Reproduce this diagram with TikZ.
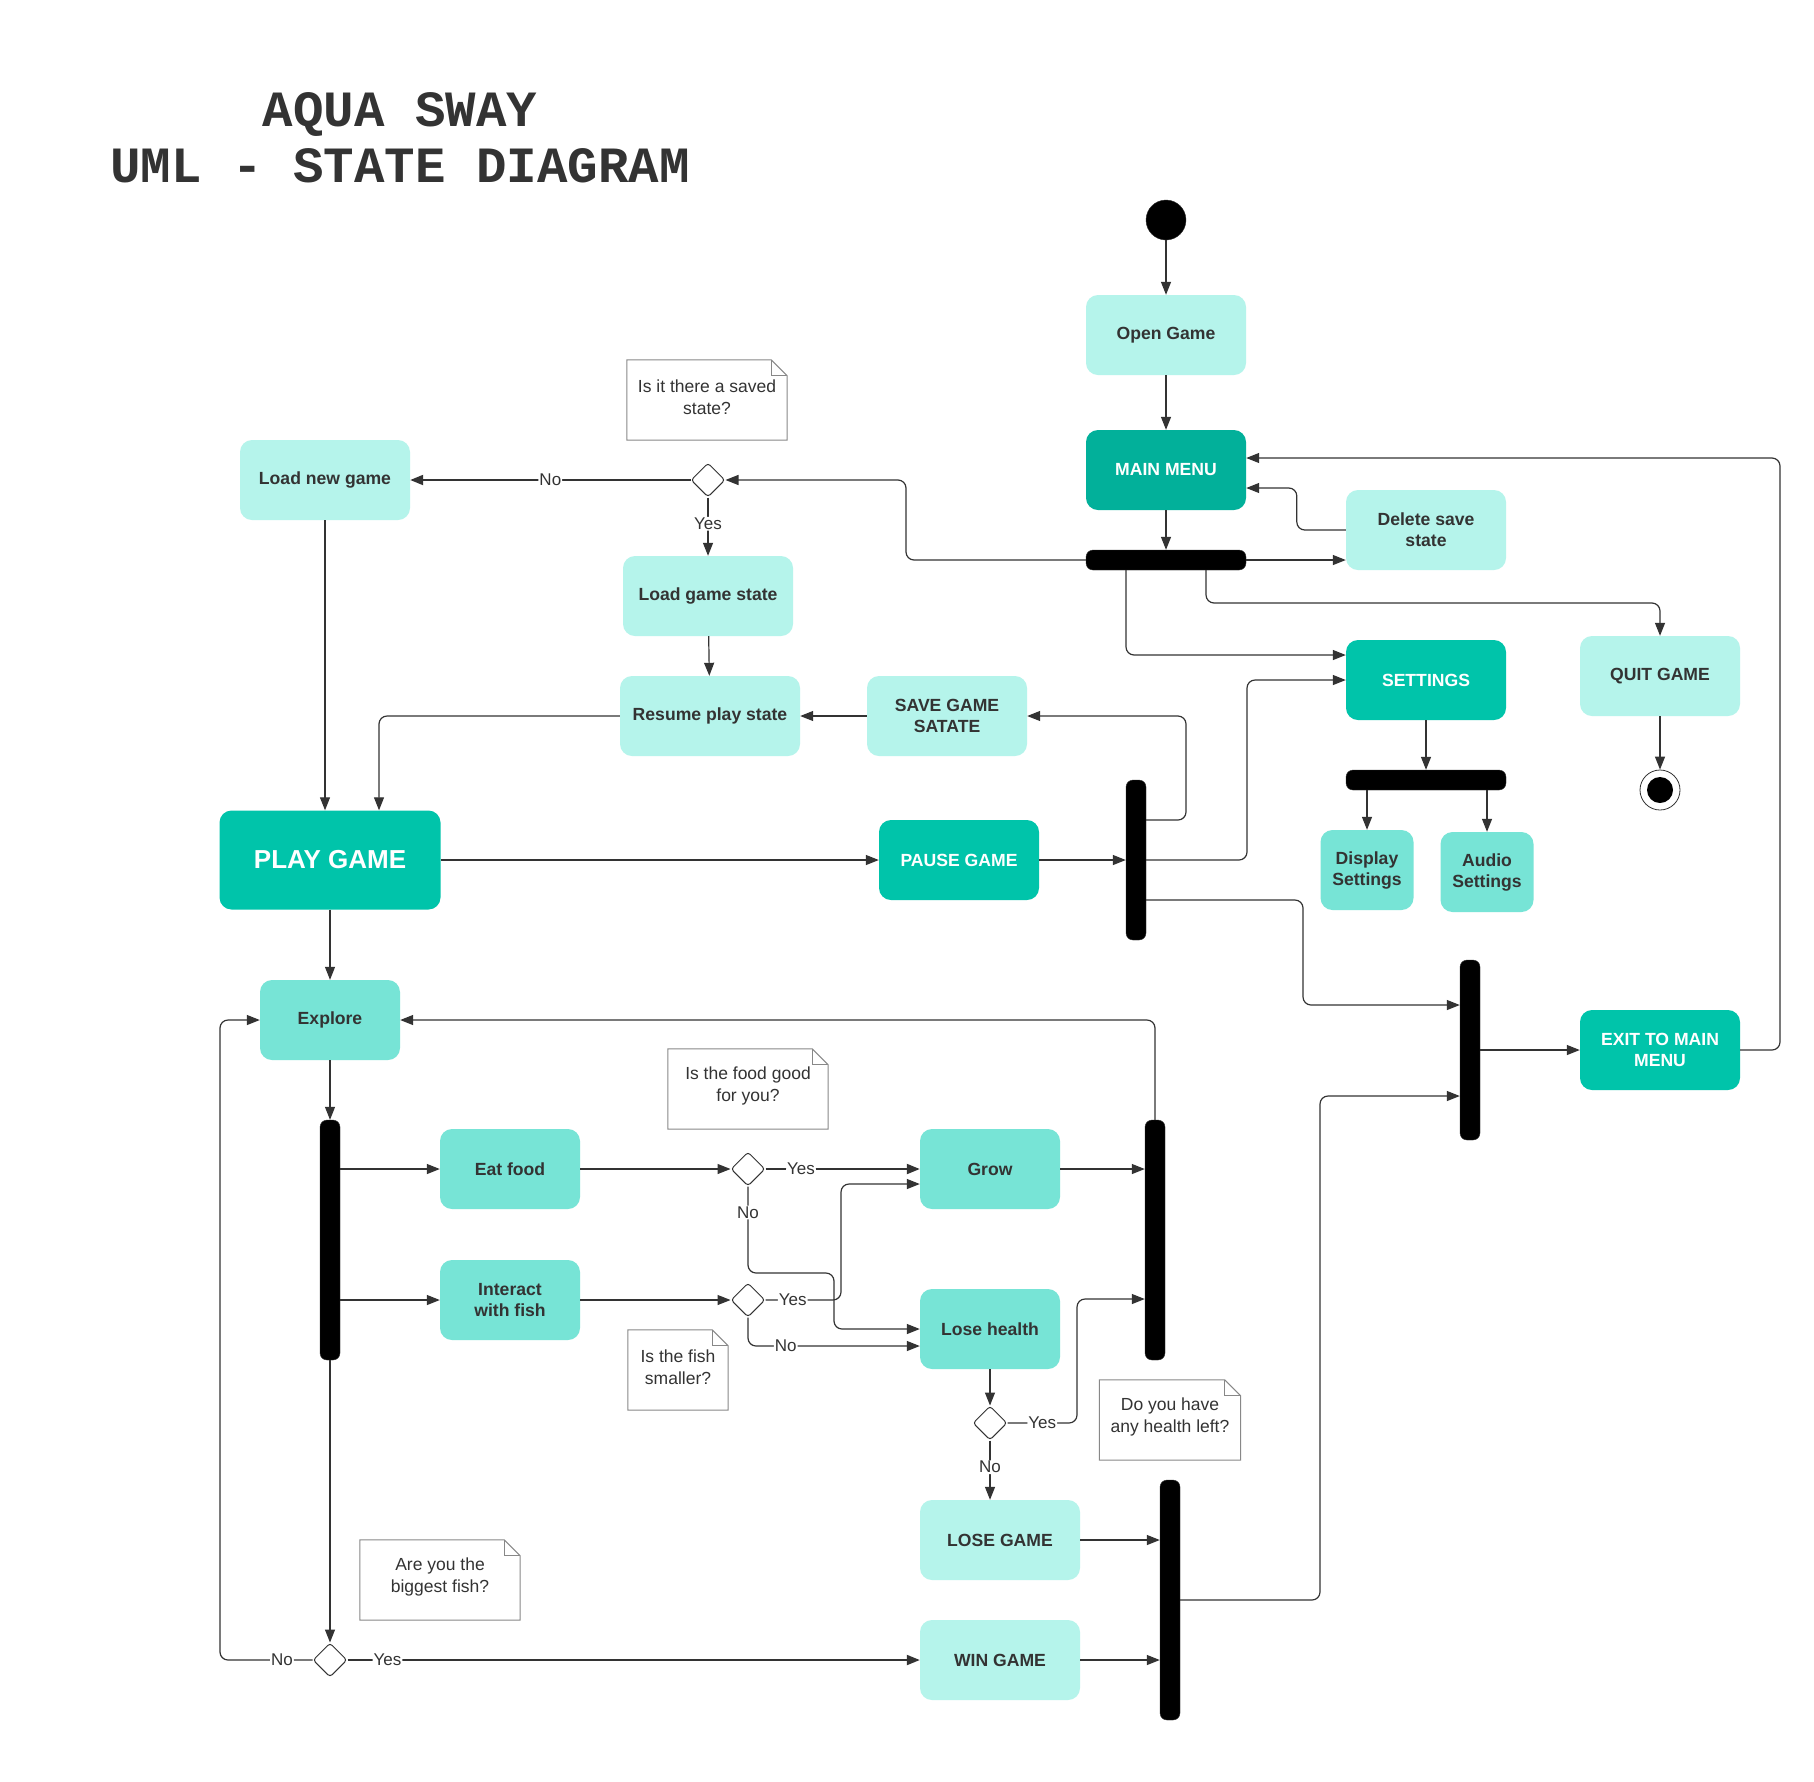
\documentclass[tikz,border=0pt]{standalone}
\usepackage{fontspec}
\setmainfont{Liberation Sans}
\newfontfamily\titlefont{Liberation Mono}
\usetikzlibrary{shapes.geometric,arrows.meta}
\definecolor{lightc}{HTML}{B5F4EB}
\definecolor{midc}{HTML}{77E4D6}
\definecolor{darkc}{HTML}{00C4AA}
\definecolor{darkerc}{HTML}{02B09A}
\definecolor{txt}{HTML}{333333}
\definecolor{linec}{HTML}{333333}
\definecolor{notec}{HTML}{888888}
\begin{document}
\begin{tikzpicture}[x=1pt,y=-1pt,
  box/.style={rectangle, rounded corners=12pt, minimum width=160pt, minimum height=80pt, inner sep=2pt, align=center, text=txt, font=\fontsize{17.6}{21}\selectfont\bfseries},
  light/.style={box, fill=lightc},
  mid/.style={box, fill=midc},
  dark/.style={box, fill=darkc, text=white},
  hbar/.style={rectangle, fill=black, draw=linec, rounded corners=7pt, inner sep=0pt, minimum width=160pt, minimum height=20pt},
  vbar/.style={rectangle, fill=black, draw=linec, rounded corners=7pt, inner sep=0pt, minimum width=20pt},
  dec/.style={diamond, draw=linec, fill=white, line width=1pt, minimum width=34pt, minimum height=34pt, inner sep=0pt, aspect=1, rounded corners=3pt},
  note/.style={rectangle, fill=white, minimum width=160pt, minimum height=80pt, inner sep=0pt},
  notetext/.style={align=center, text=txt, inner sep=0pt, yshift=3pt, font=\fontsize{17.5}{21.5}\selectfont},
  conn/.style={draw=linec, line width=1.2pt, -{Triangle[length=13pt,width=10pt]}, rounded corners=8pt},
  strong/.style={conn, line width=2pt},
  lbl/.style={fill=white, inner sep=1pt, text=txt, font=\fontsize{17}{20}\selectfont}
]
\fill[white] (0,0) rectangle (1814,1781);
\useasboundingbox (0,0) rectangle (1814,1781);

% title
\node[font=\titlefont\fontsize{50.8}{56}\selectfont\bfseries, text=txt, align=center] (title) at (400,137.5) {AQUA SWAY\\UML - STATE DIAGRAM};

% top area
\node[circle, fill=black, draw=linec, minimum size=40pt, inner sep=0pt] (init) at (1166,220) {};
\node[light] (open) at (1166,335) {Open Game};
\node[box, fill=darkerc, text=white] (menu) at (1166,470) {MAIN MENU};
\node[hbar] (bar1) at (1166,560) {};
\node[light] (del) at (1426,530) {Delete save\\state};
\node[dark] (settings) at (1426,680) {SETTINGS};
\node[light] (quit) at (1660,676) {QUIT GAME};
\node[hbar] (bar2) at (1426,780) {};
\node[mid, minimum width=93pt] (disp) at (1367,870) {Display\\Settings};
\node[mid, minimum width=93pt] (audio) at (1487,872) {Audio\\Settings};
\node[circle, draw=linec, fill=white, line width=0.8pt, minimum size=40pt, inner sep=0pt] (final) at (1660,790) {};
\node[circle, fill=black, minimum size=26pt, inner sep=0pt] (finalin) at (final) {};

% load branch
\node[note, label={[notetext]center:{Is it there a saved\\state?}}] (n1) at (707,400) {};
\node[dec] (d0) at (708,480) {};
\node[light, minimum width=170pt] (loadnew) at (325,480) {Load new game};
\node[light, minimum width=170pt] (loadst) at (708,596) {Load game state};
\node[light, minimum width=180pt] (resume) at (710,716) {Resume play state};
\node[light] (save) at (947,716) {SAVE GAME\\SATATE};

% play
\node[dark, minimum width=221pt, minimum height=99pt, font=\fontsize{26}{30}\selectfont\bfseries] (play) at (330,860) {PLAY GAME};
\node[dark] (pause) at (959,860) {PAUSE GAME};
\node[vbar, minimum height=160pt] (pbar) at (1136,860) {};
\node[vbar, minimum height=180pt] (xbar) at (1470,1050) {};
\node[dark] (exit) at (1660,1050) {EXIT TO MAIN\\MENU};

% explore
\node[mid, minimum width=140pt] (explore) at (330,1020) {Explore};
\node[vbar, minimum height=240pt] (lbar) at (330,1240) {};
\node[mid, minimum width=140pt] (eat) at (510,1169) {Eat food};
\node[mid, minimum width=140pt] (inter) at (510,1300) {Interact\\with fish};
\node[dec] (d1) at (748,1169) {};
\node[dec] (d2) at (748,1300) {};
\node[mid, minimum width=140pt] (grow) at (990,1169) {Grow};
\node[mid, minimum width=140pt] (lose) at (990,1329) {Lose health};
\node[vbar, minimum height=240pt] (rbar) at (1155,1240) {};
\node[dec] (d3) at (990,1423) {};
\node[light] (losegame) at (1000,1540) {LOSE GAME};
\node[light] (wingame) at (1000,1660) {WIN GAME};
\node[vbar, minimum height=240pt] (ebar) at (1170,1600) {};
\node[dec] (d4) at (330,1660) {};

% notes
\node[note, label={[notetext]center:{Is the food good\\for you?}}] (n2) at (748,1089) {};
\node[note, minimum width=100pt, label={[notetext]center:{Is the fish\\smaller?}}] (n3) at (678,1370) {};
\node[note, minimum width=141pt, label={[notetext]center:{Do you have\\any health left?}}] (n4) at (1170,1420) {};
\node[note, label={[notetext]center:{Are you the\\biggest fish?}}] (n5) at (440,1580) {};
\foreach \n in {n1,n2,n3,n4,n5}{
  \draw[notec, line width=1pt] (\n.north west) -- ([xshift=-16pt]\n.north east) -- ([yshift=-16pt]\n.north east) -- (\n.south east) -- (\n.south west) -- cycle;
  \draw[notec, line width=1pt] ([xshift=-16pt]\n.north east) |- ([yshift=-16pt]\n.north east);
}

% connectors
\draw[conn] (init) -- (open);
\draw[conn] (open) -- (menu);
\draw[conn] (menu) -- (bar1);
\draw[conn] (bar1.east) -- (bar1.east -| del.west);
\draw[conn] (del.west) -- ++(-49,0) |- (menu.east |- 0,488);
\draw[conn] (exit.east) -- (1780,1050) |- (menu.east |- 0,458);
\draw[conn] (bar1.west) -- (906,560) |- (d0.east);
\draw[conn] ([xshift=-40pt]bar1.south) |- (settings.west |- 0,655);
\draw[conn] ([xshift=40pt]bar1.south) |- (quit.north |- 0,603) -- (quit.north);
\draw[conn] (settings) -- (bar2);
\draw[conn] (bar2.south -| disp.north) -- (disp.north);
\draw[conn] (bar2.south -| audio.north) -- (audio.north);
\draw[conn] (quit) -- (final);

\draw[strong] (d0.west) -- node[lbl]{No} (loadnew.east);
\draw[conn] (d0.south) -- node[lbl,pos=0.45]{Yes} (loadst.north);
\draw[conn] (loadst) -- (resume);
\draw[conn] (save) -- (resume);
\draw[conn] (resume.west) -| ([xshift=49pt]play.north);
\draw[conn] (loadnew.south) -- (loadnew.south |- play.north);
\draw[conn] (play) -- (pause);
\draw[conn] (pause) -- (pbar);
\draw[conn] (pbar.east |- 0,820) -- (1186,820) |- (save.east);
\draw[conn] (pbar.east) -- (1247,860) |- (settings.west);
\draw[conn] (pbar.east |- 0,900) -- (1303,900) |- (xbar.west |- 0,1005);
\draw[conn] (xbar.east) -- (exit.west);
\draw[conn] (ebar.east) -- (1320,1600) |- (xbar.west |- 0,1096);

\draw[conn] (play) -- (explore);
\draw[conn] (explore) -- (lbar);
\draw[conn] (lbar.east |- eat.west) -- (eat.west);
\draw[conn] (lbar.east |- inter.west) -- (inter.west);
\draw[conn] (eat) -- (d1);
\draw[conn] (inter) -- (d2);
\draw[strong] (d1.east) -- node[lbl,pos=0.23]{Yes} (grow.west);
\draw[conn] (d1.south) |- node[lbl,pos=0.15]{No} (834,1273) |- (lose.west);
\draw[conn] (d2.east) -- node[lbl,pos=0.36]{Yes} (841,1300) |- (grow.west |- 0,1184);
\draw[conn] (d2.south) |- node[lbl,pos=0.61]{No} (lose.west |- 0,1346);
\draw[conn] (grow.east) -- (grow.east -| rbar.west);
\draw[conn] (lose) -- (d3);
\draw[conn] (d3.east) -- node[lbl]{Yes} (1077,1423) |- (rbar.west |- 0,1299);
\draw[conn] (d3.south) -- node[lbl,pos=0.45]{No} (d3.south |- losegame.north);
\draw[conn] (rbar.north) |- (explore.east);
\draw[conn] (losegame.east) -- (losegame.east -| ebar.west);
\draw[conn] (wingame.east) -- (wingame.east -| ebar.west);
\draw[conn] (lbar) -- (d4);
\draw[conn] (d4.west) -- node[lbl,pos=0.33]{No} (220,1660) |- (explore.west);
\draw[strong] (d4.east) -- node[lbl,pos=0.07]{Yes} (wingame.west);
\end{tikzpicture}
\end{document}
